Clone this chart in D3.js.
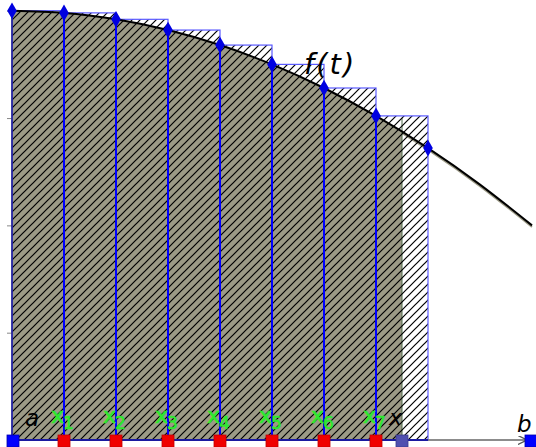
<!DOCTYPE html>
<html>
<head>
<meta charset="utf-8">
<script src="https://cdn.jsdelivr.net/npm/d3@7"></script>
<style>
  body { margin: 0; background: #fff; }
  svg { display: block; }
</style>
</head>
<body>
<div id="chart"></div>
<script>
// curve f(t) at t = 0..10
const tValues = [0, 1, 2, 3, 4, 5, 6, 7, 8, 9, 10];
const fValues = [4.00, 3.98, 3.92, 3.82, 3.68, 3.50, 3.28, 3.02, 2.72, 2.38, 2.00];

// partition points of the upper sum (a, x1..x7, last edge)
const partition = [0, 1, 2, 3, 4, 5, 6, 7, 8];
const pointNames = ['1', '2', '3', '4', '5', '6', '7'];
const pointValues = [1, 2, 3, 4, 5, 6, 7];

const aValue = 0;
const bValue = 10;
const xValue = 7.5;
const yTicks = [1, 2, 3, 4];

const width = 536;
const height = 447;

const x = d3.scaleLinear().domain([0, 10]).range([12, 532]);
const y = d3.scaleLinear().domain([0, 4.1]).range([440, 0]);

const svg = d3.select('#chart')
  .append('svg')
  .attr('width', width)
  .attr('height', height);

const defs = svg.append('defs');

// diagonal hatch
const hatch = defs.append('pattern')
  .attr('id', 'hatch')
  .attr('patternUnits', 'userSpaceOnUse')
  .attr('width', 8)
  .attr('height', 8);
hatch.append('path')
  .attr('d', 'M-2,2 L2,-2 M0,8 L8,0 M6,10 L10,6')
  .attr('stroke', '#000')
  .attr('stroke-width', 1.2);

defs.append('clipPath')
  .attr('id', 'clipX')
  .append('rect')
  .attr('x', x(aValue))
  .attr('y', 0)
  .attr('width', x(xValue) - x(aValue))
  .attr('height', height);

const curvePts = tValues.map((t, i) => [t, fValues[i]]);

const rects = d3.pairs(partition).map(([l, r]) => ({ l, r, h: fValues[tValues.indexOf(l)] }));

// white rectangles underneath
svg.append('g')
  .selectAll('rect')
  .data(rects)
  .enter()
  .append('rect')
  .attr('x', d => x(d.l))
  .attr('y', d => y(d.h))
  .attr('width', d => x(d.r) - x(d.l))
  .attr('height', d => y(0) - y(d.h))
  .style('fill', '#fff');

// grey shadow line along the curve
svg.append('path')
  .datum(curvePts)
  .attr('d', d3.line().x(d => x(d[0])).y(d => y(d[1]) + 1.5).curve(d3.curveNatural))
  .attr('fill', 'none')
  .attr('stroke', '#9c9a86')
  .attr('stroke-width', 2);

// area under the curve from a to x
const area = d3.area()
  .x(d => x(d[0]))
  .y0(y(0))
  .y1(d => y(d[1]))
  .curve(d3.curveNatural);

svg.append('path')
  .datum(curvePts)
  .attr('d', area)
  .attr('clip-path', 'url(#clipX)')
  .style('fill', '#9c9a86');

svg.append('line')
  .attr('x1', x(xValue))
  .attr('x2', x(xValue))
  .attr('y1', y(0))
  .attr('y2', y(3.0))
  .attr('stroke', '#4f6a4a')
  .attr('stroke-width', 1);

// hatch over rectangles
svg.append('g')
  .selectAll('rect')
  .data(rects)
  .enter()
  .append('rect')
  .attr('x', d => x(d.l))
  .attr('y', d => y(d.h))
  .attr('width', d => x(d.r) - x(d.l))
  .attr('height', d => y(0) - y(d.h))
  .style('fill', 'url(#hatch)')
  .style('stroke', '#5a5aff')
  .style('stroke-width', 1.2);

// y ticks
svg.append('g')
  .attr('transform', `translate(${x(aValue)},0)`)
  .call(d3.axisLeft(y).tickValues(yTicks).tickSize(5).tickFormat(''))
  .call(g => g.select('.domain').remove())
  .call(g => g.selectAll('line').attr('stroke', '#888'));

svg.append('line')
  .attr('x1', x(aValue)).attr('x2', x(aValue))
  .attr('y1', y(0)).attr('y2', y(fValues[0]))
  .attr('stroke', '#1a1a90')
  .attr('stroke-width', 1.5);

// x axis
defs.append('marker')
  .attr('id', 'arrow')
  .attr('viewBox', '0 0 10 10')
  .attr('refX', 9).attr('refY', 5)
  .attr('markerWidth', 6).attr('markerHeight', 6)
  .attr('orient', 'auto')
  .append('path')
  .attr('d', 'M0,0 L10,5 L0,10')
  .attr('fill', 'none')
  .attr('stroke', '#555')
  .attr('stroke-width', 1.5);

svg.append('line')
  .attr('x1', x(aValue)).attr('x2', x(bValue) - 6)
  .attr('y1', y(0)).attr('y2', y(0))
  .attr('stroke', '#666')
  .attr('stroke-width', 1.5)
  .attr('marker-end', 'url(#arrow)');

svg.append('line')
  .attr('x1', x(aValue)).attr('x2', x(partition[partition.length - 1]))
  .attr('y1', y(0)).attr('y2', y(0))
  .attr('stroke', '#1a1aa0')
  .attr('stroke-width', 2);

// vertical lines at x1..x7
svg.append('g')
  .selectAll('line')
  .data(pointValues)
  .enter()
  .append('line')
  .attr('x1', d => x(d)).attr('x2', d => x(d))
  .attr('y1', y(0))
  .attr('y2', d => y(fValues[tValues.indexOf(d)]))
  .attr('stroke', '#0000ff')
  .attr('stroke-width', 2);

// curve
svg.append('path')
  .datum(curvePts)
  .attr('d', d3.line().x(d => x(d[0])).y(d => y(d[1])).curve(d3.curveNatural))
  .attr('fill', 'none')
  .attr('stroke', '#000')
  .attr('stroke-width', 2);

// diamonds on the curve
svg.append('g')
  .selectAll('path')
  .data(partition)
  .enter()
  .append('path')
  .attr('d', d3.symbol().type(d3.symbolDiamond).size(80))
  .attr('transform', d => `translate(${x(d)},${y(fValues[tValues.indexOf(d)])})`)
  .style('fill', '#0000e0');

// squares on the axis
const square = (cx, color, stroke) => svg.append('rect')
  .attr('x', cx - 6).attr('y', y(0) - 5)
  .attr('width', 12).attr('height', 12)
  .style('fill', color)
  .style('stroke', stroke)
  .style('stroke-width', 0.8);

square(x(aValue) + 1, '#0000ff', '#0000aa');
pointValues.forEach(d => square(x(d), '#f00000', '#c00000'));
square(x(xValue), '#5050b0', '#3a3a8a');
square(x(bValue) - 1, '#0000ff', '#0000aa');

// labels
svg.append('text')
  .attr('x', 25).attr('y', 426)
  .attr('font-family', 'DejaVu Sans')
  .attr('font-style', 'italic')
  .attr('font-size', 23)
  .text('a');

svg.append('text')
  .attr('x', 517).attr('y', 432)
  .attr('font-family', 'DejaVu Sans')
  .attr('font-style', 'italic')
  .attr('font-size', 23)
  .text('b');

svg.append('text')
  .attr('x', x(xValue) - 13).attr('y', 425)
  .attr('font-family', 'DejaVu Sans')
  .attr('font-style', 'italic')
  .attr('font-size', 22)
  .text('x');

// green point labels: letter and subscript as separate texts
const labels = svg.append('g')
  .attr('font-family', 'DejaVu Sans')
  .attr('fill', '#2ee82e')
  .attr('stroke', '#2ee82e')
  .attr('stroke-width', 0.6);

labels.selectAll('text.main')
  .data(pointValues)
  .enter()
  .append('text')
  .attr('class', 'main')
  .attr('x', d => x(d) - 13)
  .attr('y', 423)
  .style('font-size', '22px')
  .text('x');

labels.selectAll('text.sub')
  .data(pointValues)
  .enter()
  .append('text')
  .attr('class', 'sub')
  .attr('x', d => x(d) - 1)
  .attr('y', 429)
  .style('font-size', '17px')
  .text((d, i) => pointNames[i]);

svg.append('text')
  .attr('x', 304).attr('y', 74)
  .attr('font-family', 'DejaVu Sans')
  .attr('font-style', 'italic')
  .attr('font-size', 29)
  .attr('letter-spacing', 2)
  .text('f(t)');
</script>
</body>
</html>
